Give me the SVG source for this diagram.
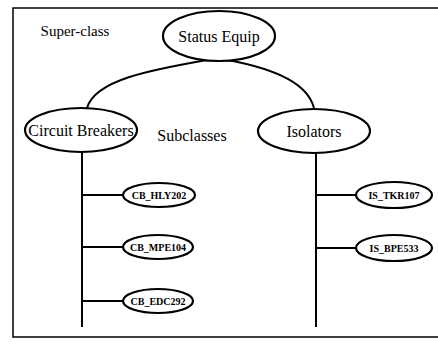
<svg xmlns="http://www.w3.org/2000/svg" width="438" height="345" viewBox="0 0 438 345">
<style>
.n ellipse{fill:#fff;stroke:#000;stroke-width:2.2}
.t{font-family:"Liberation Serif","Times New Roman",serif;fill:#000;text-anchor:middle}
.big{font-size:16px}
.sm{font-size:10px;font-weight:bold}
#connectors path{fill:none;stroke:#000;stroke-width:2}
</style>
<rect width="438" height="345" fill="#fff"/>
<g id="frame" fill="none" stroke="#000" stroke-width="1.5">
<path d="M438 8 H13 V337 H438"/>
</g>
<text class="t" x="75" y="36" font-size="15">Super-class</text>
<text class="t big" x="192" y="141">Subclasses</text>
<g id="connectors">
<path d="M207 60 C150 70 95 80 87 108"/>
<path d="M228 60 C280 70 308 85 314 108"/>
<path d="M82 152 V327"/>
<path d="M316 153 V327"/>
<path d="M82 195 H123"/>
<path d="M82 247 H123"/>
<path d="M82 301 H123"/>
<path d="M316 195 H356"/>
<path d="M316 248 H356"/>
</g>
<g id="status-equip" class="n"><ellipse cx="219" cy="36" rx="56" ry="25"/><text class="t big" x="219" y="42">Status Equip</text></g>
<g id="circuit-breakers" class="n"><ellipse cx="81" cy="130" rx="56" ry="22"/><text class="t big" x="81" y="136">Circuit Breakers</text></g>
<g id="isolators" class="n"><ellipse cx="314" cy="131" rx="56" ry="22"/><text class="t big" x="314" y="137">Isolators</text></g>
<g id="cb-hly202" class="n"><ellipse cx="159" cy="195" rx="36" ry="12"/><text class="t sm" x="159" y="199">CB_HLY202</text></g>
<g id="cb-mpe104" class="n"><ellipse cx="158" cy="247" rx="35" ry="12"/><text class="t sm" x="158" y="251">CB_MPE104</text></g>
<g id="cb-edc292" class="n"><ellipse cx="158" cy="301" rx="35" ry="12"/><text class="t sm" x="158" y="305">CB_EDC292</text></g>
<g id="is-tkr107" class="n"><ellipse cx="394" cy="195" rx="38" ry="13"/><text class="t sm" x="394" y="199">IS_TKR107</text></g>
<g id="is-bpe533" class="n"><ellipse cx="394" cy="248" rx="38" ry="13"/><text class="t sm" x="394" y="252">IS_BPE533</text></g>
</svg>
